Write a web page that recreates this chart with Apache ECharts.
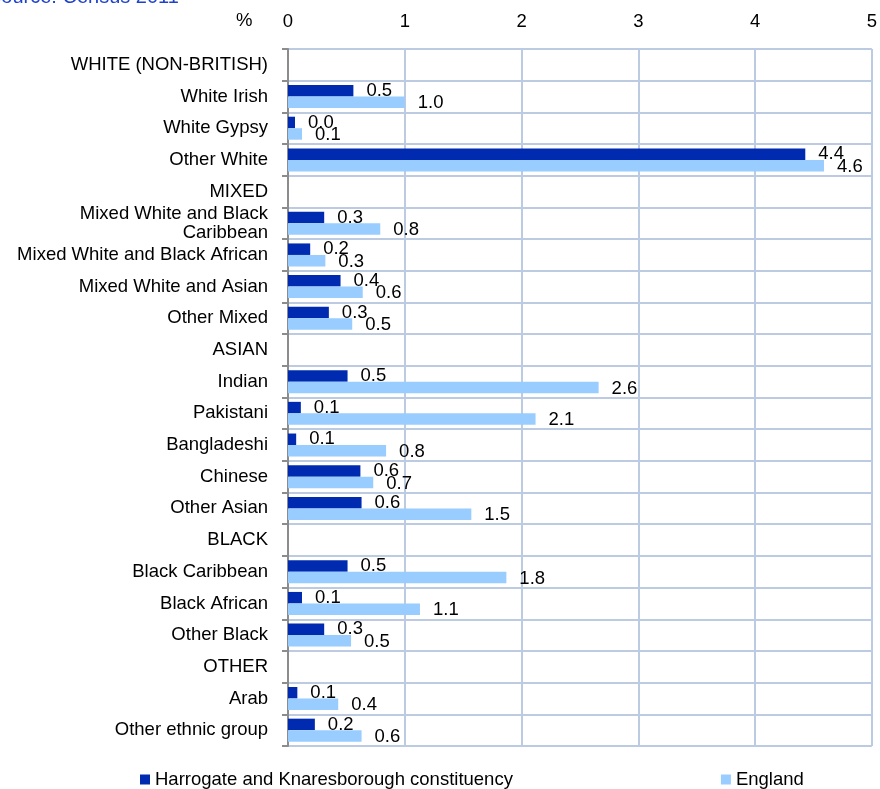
<!DOCTYPE html>
<html>
<head>
<meta charset="utf-8">
<script src="https://cdn.jsdelivr.net/npm/echarts@6/dist/echarts.min.js"></script>
<style>
html,body{margin:0;padding:0;background:#fff;}
#chart{width:880px;height:789px;}
</style>
</head>
<body>
<div id="chart"></div>
<script>
const categories = [
  'WHITE (NON-BRITISH)', 'White Irish', 'White Gypsy', 'Other White',
  'MIXED', 'Mixed White and Black\nCaribbean', 'Mixed White and Black African', 'Mixed White and Asian', 'Other Mixed',
  'ASIAN', 'Indian', 'Pakistani', 'Bangladeshi', 'Chinese', 'Other Asian',
  'BLACK', 'Black Caribbean', 'Black African', 'Other Black',
  'OTHER', 'Arab', 'Other ethnic group'
];
// bar lengths (%)
const harrogateValues = [null, 0.56, 0.06, 4.43, null, 0.31, 0.19, 0.45, 0.35, null, 0.51, 0.11, 0.07, 0.62, 0.63, null, 0.51, 0.12, 0.31, null, 0.08, 0.23];
const englandValues   = [null, 1.00, 0.12, 4.59, null, 0.79, 0.32, 0.64, 0.55, null, 2.66, 2.12, 0.84, 0.73, 1.57, null, 1.87, 1.13, 0.54, null, 0.43, 0.63];
// printed data labels
const harrogateLabels = [null, '0.5', '0.0', '4.4', null, '0.3', '0.2', '0.4', '0.3', null, '0.5', '0.1', '0.1', '0.6', '0.6', null, '0.5', '0.1', '0.3', null, '0.1', '0.2'];
const englandLabels   = [null, '1.0', '0.1', '4.6', null, '0.8', '0.3', '0.6', '0.5', null, '2.6', '2.1', '0.8', '0.7', '1.5', null, '1.8', '1.1', '0.5', null, '0.4', '0.6'];
const seriesNames = ['Harrogate and Knaresborough constituency', 'England'];
const xTicks = { min: 0, max: 5, interval: 1 };

const FONT = 'Liberation Sans, Arial, sans-serif';
const FS = 18.5;
const chart = echarts.init(document.getElementById('chart'));
const gridColor = '#bccbe2';

function mkSeries(name, values, labels, color, offsetY) {
  return {
    name: name,
    type: 'bar',
    data: values,
    barWidth: 11.5,
    barGap: '0%',
    itemStyle: { color: color },
    animation: false,
    label: {
      show: true,
      position: 'right',
      distance: 13,
      offset: [0, offsetY],
      color: '#000',
      fontFamily: FONT,
      fontSize: FS,
      formatter: p => labels[p.dataIndex] == null ? '' : labels[p.dataIndex]
    }
  };
}

chart.setOption({
  animation: false,
  backgroundColor: '#fff',
  grid: { left: 288, right: 8, top: 49, bottom: 43, containLabel: false },
  xAxis: {
    type: 'value',
    position: 'top',
    min: xTicks.min, max: xTicks.max, interval: xTicks.interval,
    axisLine: { show: false },
    axisTick: { show: false },
    axisLabel: { color: '#000', fontFamily: FONT, fontSize: FS, margin: 18 },
    splitLine: { show: true, lineStyle: { color: gridColor, width: 2 } }
  },
  yAxis: {
    type: 'category',
    inverse: true,
    data: categories,
    axisLine: { show: true, lineStyle: { color: '#8c8c8c', width: 2 } },
    axisTick: { show: true, length: 6, lineStyle: { color: '#8c8c8c', width: 2 } },
    axisLabel: { color: '#000', fontFamily: FONT, fontSize: FS, margin: 20, lineHeight: 19, interval: 0 },
    splitLine: { show: true, lineStyle: { color: gridColor, width: 2 } }
  },
  legend: {
    left: 135, top: 765,
    itemWidth: 10, itemHeight: 10, itemGap: 208,
    icon: 'rect',
    textStyle: { color: '#000', fontFamily: FONT, fontSize: FS },
    data: seriesNames
  },
  graphic: [
    { type: 'text', left: 236, top: 11, style: { text: '%', fill: '#000', font: FS + 'px ' + FONT } },
    { type: 'text', x: -12, y: 7, style: { text: 'Source: Census 2011', fill: '#1f42cc', font: '20px ' + FONT, textVerticalAlign: 'bottom' } }
  ],
  series: [
    mkSeries(seriesNames[0], harrogateValues, harrogateLabels, '#002bb0', 0),
    mkSeries(seriesNames[1], englandValues, englandLabels, '#99ccff', 1)
  ]
});
</script>
</body>
</html>
